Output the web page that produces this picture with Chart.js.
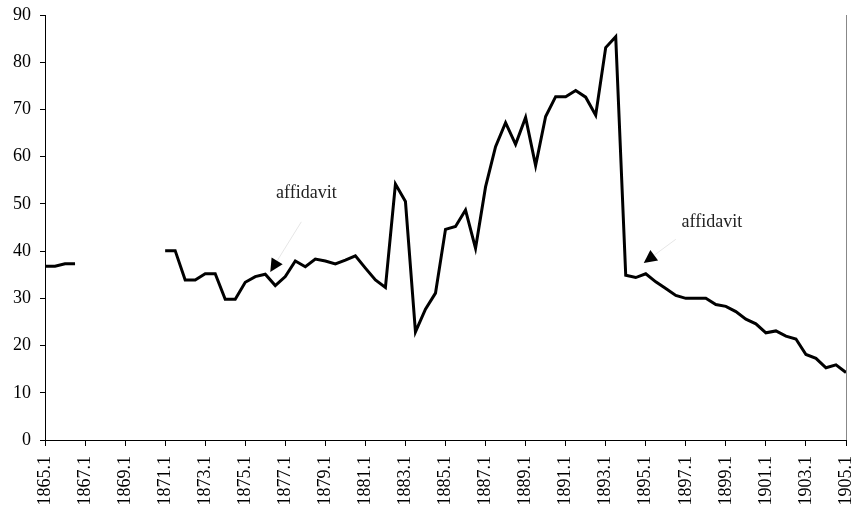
<!DOCTYPE html>
<html>
<head>
<meta charset="utf-8">
<script src="https://cdn.jsdelivr.net/npm/chart.js@4/dist/chart.umd.min.js"></script>
<style>
  html, body { margin: 0; padding: 0; background: #fff; }
  #wrap { width: 857px; height: 511px; }
</style>
</head>
<body>
<div id="wrap"><canvas id="chart"></canvas></div>
<script>
// ─── Data ────────────────────────────────────────────────
const years = [];
for (let y = 1865; y <= 1905; y++) {
  years.push(y + '.1');
  if (y < 1905) years.push(y + '.2');
}

const values = [
  36.8, 36.8, 37.3, 37.3, null, null, null, null, null, null, null, null,
  40.1, 40.1, 33.9, 33.9, 35.2, 35.2, 29.8, 29.8, 33.4, 34.6, 35.1, 32.7,
  34.6, 37.9, 36.7, 38.3, 37.9, 37.3, 38.1, 39.0, 36.4, 33.9, 32.3, 54.2,
  50.5, 22.9, 27.7, 31.1, 44.6, 45.2, 48.7, 40.6, 53.6, 62.1, 67.2, 62.6,
  68.3, 58.1, 68.5, 72.7, 72.7, 74.0, 72.6, 68.8, 83.1, 85.4, 34.9, 34.4,
  35.2, 33.5, 32.1, 30.6, 30.0, 30.0, 30.0, 28.7, 28.3, 27.2, 25.6, 24.6,
  22.7, 23.1, 22.0, 21.4, 18.1, 17.3, 15.3, 15.9, 14.3
];

// annotations: text position, arrow tail, arrow tip (index, value)
const noteTexts = ['affidavit', 'affidavit'];
const noteTextAt = [[26.1, 52.3], [66.6, 46.1]];
const noteTailAt = [[25.6, 46.2], [63.0, 42.5]];
const noteTipAt  = [[22.5, 35.6], [59.8, 37.5]];

const FONT = '"Liberation Serif", "Times New Roman", serif';

// ─── Annotation plugin ───────────────────────────────────
const notesPlugin = {
  id: 'notes',
  afterDatasetsDraw(chart) {
    const { ctx, scales: { x, y } } = chart;
    const px = i => x.getPixelForValue(i);
    ctx.save();
    noteTexts.forEach((txt, k) => {
      const tx = px(noteTextAt[k][0]), ty = y.getPixelForValue(noteTextAt[k][1]);
      ctx.font = '18px ' + FONT;
      ctx.fillStyle = '#222';
      ctx.textAlign = 'center';
      ctx.textBaseline = 'middle';
      ctx.fillText(txt, tx, ty);

      const ax = px(noteTailAt[k][0]), ay = y.getPixelForValue(noteTailAt[k][1]);
      const bx = px(noteTipAt[k][0]), by = y.getPixelForValue(noteTipAt[k][1]);
      const dx = bx - ax, dy = by - ay, len = Math.hypot(dx, dy);
      const ux = dx / len, uy = dy / len;
      const head = 13, half = 6.5;
      const baseX = bx - ux * head, baseY = by - uy * head;

      ctx.strokeStyle = '#e6e6e6';
      ctx.lineWidth = 1;
      ctx.beginPath();
      ctx.moveTo(ax, ay);
      ctx.lineTo(baseX, baseY);
      ctx.stroke();

      ctx.fillStyle = '#000';
      ctx.beginPath();
      ctx.moveTo(bx, by);
      ctx.lineTo(baseX - uy * half, baseY + ux * half);
      ctx.lineTo(baseX + uy * half, baseY - ux * half);
      ctx.closePath();
      ctx.fill();
    });

    // right frame line
    const area = chart.chartArea;
    ctx.strokeStyle = '#888';
    ctx.lineWidth = 1;
    ctx.beginPath();
    ctx.moveTo(Math.round(area.right) + 0.5, area.top);
    ctx.lineTo(Math.round(area.right) + 0.5, area.bottom);
    ctx.stroke();
    ctx.restore();
  }
};

new Chart(document.getElementById('chart'), {
  type: 'line',
  data: {
    labels: years,
    datasets: [{
      data: values,
      borderColor: '#000',
      borderWidth: 3,
      pointRadius: 0,
      tension: 0,
      spanGaps: false,
      borderJoinStyle: 'miter',
    }],
  },
  options: {
    responsive: true,
    maintainAspectRatio: false,
    animation: false,
    layout: { padding: { top: 15, right: 11, left: 0, bottom: 0 } },
    plugins: { legend: { display: false }, tooltip: { enabled: false } },
    scales: {
      x: {
        offset: false,
        grid: { drawOnChartArea: false, drawTicks: true, tickLength: 6, color: '#000' },
        border: { display: true, color: '#000', width: 1 },
        ticks: {
          autoSkip: false,
          minRotation: 90,
          maxRotation: 90,
          padding: 10,
          color: '#000',
          font: { family: FONT, size: 18 },
          callback: (v, i) => i % 4 === 0 ? years[i] : null,
        },
        afterFit: s => { s.height = 71; s.paddingLeft = 0; s.paddingRight = 0; },
      },
      y: {
        min: 0,
        max: 90,
        grid: { drawOnChartArea: false, drawTicks: true, tickLength: 5, color: '#000' },
        border: { display: true, color: '#000', width: 1 },
        ticks: {
          stepSize: 10,
          padding: 9,
          color: '#000',
          font: { family: FONT, size: 18 },
        },
        afterFit: s => { s.width = 45; s.paddingTop = 0; s.paddingBottom = 0; },
      },
    },
  },
  plugins: [notesPlugin],
});
</script>
</body>
</html>
